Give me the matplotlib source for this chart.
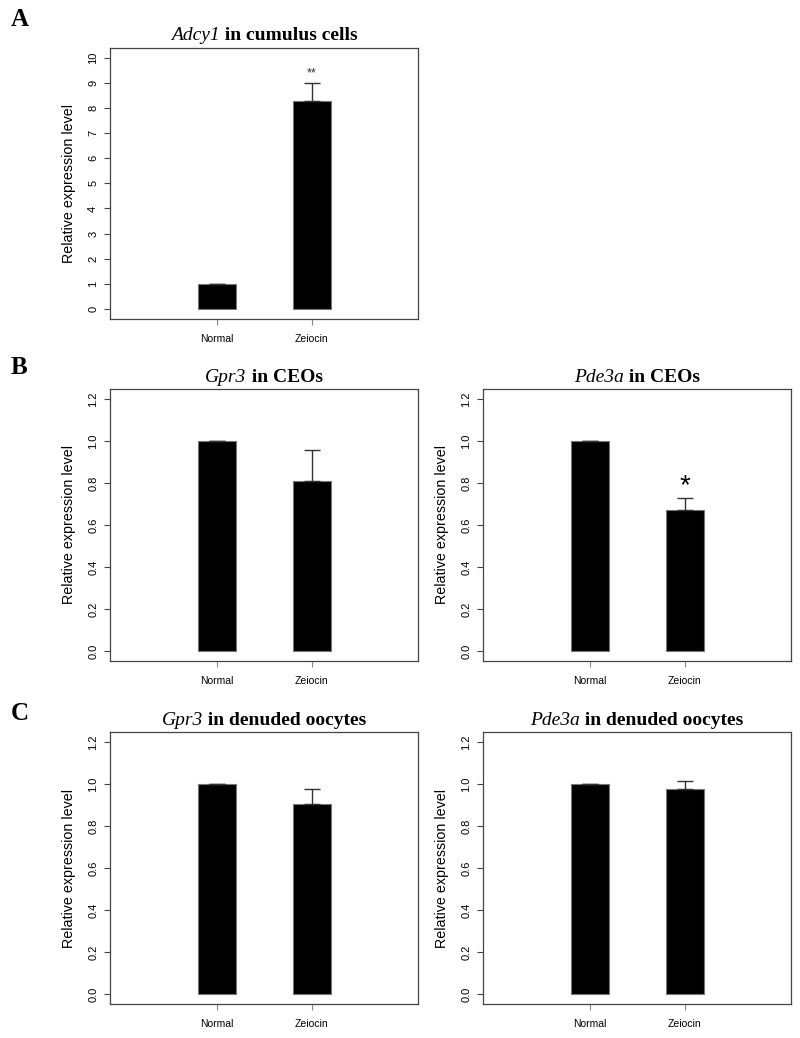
import matplotlib.pyplot as plt
from matplotlib.offsetbox import TextArea, HPacker, AnchoredOffsetbox

plt.rcParams['font.family'] = 'Liberation Sans'

groups = ['Normal', 'Zeiocin']

adcy1_cc = [1.0, 8.27]
adcy1_cc_se = [0.0, 0.73]

gpr3_ceo = [1.0, 0.812]
gpr3_ceo_se = [0.0, 0.146]

pde3a_ceo = [1.0, 0.672]
pde3a_ceo_se = [0.0, 0.056]

gpr3_do = [1.0, 0.906]
gpr3_do_se = [0.0, 0.07]

pde3a_do = [1.0, 0.975]
pde3a_do_se = [0.0, 0.038]

W, H = 800, 1038
fig = plt.figure(figsize=(W / 100, H / 100), dpi=100)

def box(x0, x1, y0, y1):
    return [x0 / W, 1 - y1 / H, (x1 - x0) / W, (y1 - y0) / H]

def panel(rect, vals, errs, gene, rest, ymax, yticks, ticklabels, star=None,
          starsize=9, starcolor='#333333', staroff=0.02):
    ax = fig.add_axes(rect)
    xs = [1, 2]
    ax.bar(xs, vals, width=0.4, color='black', edgecolor='#777777', linewidth=0.8)
    ax.errorbar(xs, vals, yerr=[[0, 0], errs], fmt='none', ecolor='#333333',
                elinewidth=1.0, capsize=5.5, capthick=1.0)
    ax.set_xlim(-0.13, 3.12)
    ext = ymax * 0.04
    ax.set_ylim(-ext, ymax + ext)
    ax.set_xticks(xs)
    ax.set_xticklabels(groups, fontsize=7.5)
    ax.set_yticks(yticks)
    ax.set_yticklabels(ticklabels, fontsize=8, rotation=90, va='center')
    ax.tick_params(axis='y', direction='out', length=4.5, width=0.8, color='#444444', pad=4)
    ax.tick_params(axis='x', direction='out', length=4, width=0.8, color='#888888', pad=7)
    for s in ax.spines.values():
        s.set_color('#444444')
        s.set_linewidth(0.9)
    ax.set_ylabel('Relative expression level', fontsize=10.3, labelpad=9)

    # title: italic gene name + bold rest, Times-like font
    t1 = TextArea(gene, textprops=dict(family='Liberation Serif', style='italic',
                                       fontsize=14))
    t2 = TextArea(' ' + rest, textprops=dict(family='Liberation Serif',
                                             fontweight='bold', fontsize=14))
    pack = HPacker(children=[t1, t2], align='baseline', pad=0, sep=0)
    anc = AnchoredOffsetbox(loc='lower center', child=pack, frameon=False,
                            bbox_to_anchor=(0.5, 1.0), bbox_transform=ax.transAxes,
                            borderpad=0.25, pad=0)
    ax.add_artist(anc)

    if star is not None:
        ax.text(2, vals[1] + errs[1] + ymax * staroff, star, ha='center', va='bottom',
                fontsize=starsize, color=starcolor)
    return ax

ticks10 = list(range(0, 11))
ticks12 = [0.0, 0.2, 0.4, 0.6, 0.8, 1.0, 1.2]
labels12 = ['%.1f' % t for t in ticks12]

panel(box(110, 418, 47.7, 319), adcy1_cc, adcy1_cc_se, 'Adcy1', 'in cumulus cells',
      10, ticks10, [str(t) for t in ticks10], star='**', starsize=9, staroff=0.015)
panel(box(110, 418, 389, 661), gpr3_ceo, gpr3_ceo_se, 'Gpr3', 'in CEOs',
      1.2, ticks12, labels12)
panel(box(483, 791, 389, 661), pde3a_ceo, pde3a_ceo_se, 'Pde3a', 'in CEOs',
      1.2, ticks12, labels12, star='*', starsize=20, starcolor='black', staroff=-0.005)
panel(box(110, 418, 732, 1004), gpr3_do, gpr3_do_se, 'Gpr3', 'in denuded oocytes',
      1.2, ticks12, labels12)
panel(box(483, 791, 732, 1004), pde3a_do, pde3a_do_se, 'Pde3a', 'in denuded oocytes',
      1.2, ticks12, labels12)

for letter, y in [('A', 20), ('B', 368), ('C', 714)]:
    fig.text(11 / W, 1 - y / H, letter, fontsize=18, fontweight='bold',
             family='Liberation Serif', va='center', ha='left')

plt.savefig('out.png', dpi=100)
